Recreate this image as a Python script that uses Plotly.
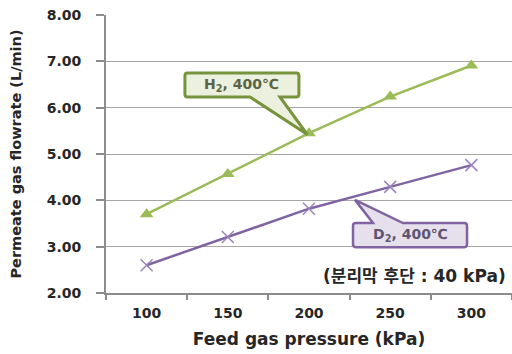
import plotly.graph_objects as go

# Feed pressure (kPa) and permeate flowrate (L/min) at 400 ℃
pressure = [100, 150, 200, 250, 300]
h2_flow = [3.70, 4.57, 5.45, 6.24, 6.91]
d2_flow = [2.60, 3.21, 3.82, 4.29, 4.76]
y_ticks = [2, 3, 4, 5, 6, 7, 8]
note_text = "(분리막 후단 : 40 kPa)"

GREEN = "#9BBB59"
GREEN_DARK = "#77933C"
PURPLE = "#8064A2"
GRID = "#A6A6A6"
AXIS = "#8C8C8C"
FONT = "DejaVu Sans, Noto Sans CJK KR, sans-serif"


def callout(x0, x1, y0, y1, bx0, bx1, tip, base_top):
    """Rounded box with a triangular pointer leaving from the top or bottom edge."""
    rx, ry = 1.6, 0.06
    if base_top:
        # pointer from top edge
        return (f"M{x0+rx},{y1} L{bx0},{y1} L{tip[0]},{tip[1]} L{bx1},{y1} L{x1-rx},{y1} "
                f"Q{x1},{y1} {x1},{y1-ry} L{x1},{y0+ry} Q{x1},{y0} {x1-rx},{y0} "
                f"L{x0+rx},{y0} Q{x0},{y0} {x0},{y0+ry} L{x0},{y1-ry} Q{x0},{y1} {x0+rx},{y1} Z")
    # pointer from bottom edge
    return (f"M{x0+rx},{y1} L{x1-rx},{y1} Q{x1},{y1} {x1},{y1-ry} L{x1},{y0+ry} "
            f"Q{x1},{y0} {x1-rx},{y0} L{bx1},{y0} L{tip[0]},{tip[1]} L{bx0},{y0} "
            f"L{x0+rx},{y0} Q{x0},{y0} {x0},{y0+ry} L{x0},{y1-ry} Q{x0},{y1} {x0+rx},{y1} Z")


fig = go.Figure()
fig.add_trace(go.Scatter(
    x=pressure, y=h2_flow, mode="lines+markers", name="H2",
    line=dict(color=GREEN, width=2.5),
    marker=dict(symbol="triangle-up", size=12, color=GREEN),
))
fig.add_trace(go.Scatter(
    x=pressure, y=d2_flow, mode="lines+markers", name="D2",
    line=dict(color=PURPLE, width=2.5),
    marker=dict(symbol="x-thin", size=12, line=dict(color="#9A84BC", width=1.5)),
))

fig.add_shape(type="path", xref="x", yref="y", layer="above",
              path=callout(123.6, 193.8, 6.23, 6.75, 163.7, 182.1, (199.0, 5.42), base_top=False),
              fillcolor="#EBF1DE", line=dict(color=GREEN_DARK, width=3))
fig.add_shape(type="path", xref="x", yref="y", layer="above",
              path=callout(227.1, 297.3, 2.99, 3.51, 239.4, 257.9, (228.3, 4.01), base_top=True),
              fillcolor="#E6E0EC", line=dict(color=PURPLE, width=2.5))

fig.add_annotation(x=158.7, y=6.49, xref="x", yref="y", showarrow=False,
                   text="<b>H<sub>2</sub>, 400℃</b>", font=dict(family=FONT, size=14, color="#5A6444"))
fig.add_annotation(x=262.2, y=3.25, xref="x", yref="y", showarrow=False,
                   text="<b>D<sub>2</sub>, 400℃</b>", font=dict(family=FONT, size=14, color="#5E5472"))
fig.add_annotation(x=0.99, y=2.37, xref="paper", yref="y", xanchor="right", showarrow=False,
                   text=f"<b>{note_text}</b>", font=dict(family=FONT, size=17, color="#262626"))

fig.update_layout(
    width=512, height=354,
    margin=dict(l=106, r=0, t=15, b=61),
    paper_bgcolor="white", plot_bgcolor="white",
    showlegend=False,
    font=dict(family=FONT, color="#262626"),
    xaxis=dict(
        range=[75, 325], tickvals=pressure, ticktext=[f"<b>{p}</b>" for p in pressure],
        ticks="", showgrid=False, zeroline=False,
        showline=True, linecolor=AXIS, linewidth=1.5,
        tickfont=dict(size=14, color="#262626"),
        ticklabelstandoff=6,
        minor=dict(tickvals=[75, 125, 175, 225, 275, 325], ticks="outside",
                   ticklen=5, tickcolor=AXIS, tickwidth=1.5, showgrid=False),
        title=dict(text="<b>Feed gas pressure (kPa)</b>", font=dict(size=17, color="#262626"),
                   standoff=14),
    ),
    yaxis=dict(
        range=[2, 8], tickvals=y_ticks,
        ticktext=[f"<b>{v:.2f}</b>" for v in y_ticks],
        ticks="outside", ticklen=8, tickcolor=AXIS, tickwidth=1.5,
        ticklabelstandoff=12,
        showgrid=True, gridcolor=GRID, gridwidth=1.2, zeroline=False,
        showline=True, linecolor=AXIS, linewidth=2,
        tickfont=dict(size=14, color="#262626"),
        title=dict(text="<b>Permeate gas flowrate (L/min)</b>", font=dict(size=14.5, color="#262626"),
                   standoff=22),
    ),
)

fig.write_html("out.html")
